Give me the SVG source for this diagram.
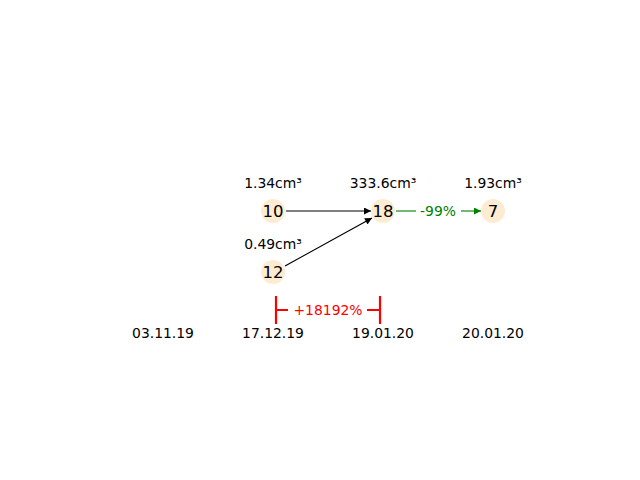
<svg xmlns="http://www.w3.org/2000/svg" width="640" height="480" viewBox="0 0 640 480">
<style>
text{font-family:"DejaVu Sans",sans-serif;}
.lbl{font-size:13.9px;fill:#000;text-anchor:middle;}
.num{font-size:16.5px;fill:#000;text-anchor:middle;dominant-baseline:central;}
.node{fill:#fdecd2;}
.edge{stroke:#000;stroke-width:1.1;fill:none;}
.g{stroke:#008000;stroke-width:1.1;fill:none;}
.r{stroke:#ff0000;stroke-width:2.2;fill:none;}
</style>
<defs>
<marker id="ab" viewBox="0 0 10 10" refX="10" refY="5" markerWidth="9" markerHeight="7" markerUnits="userSpaceOnUse" orient="auto"><path d="M0,0 L10,5 L0,10 z" fill="#000"/></marker>
<marker id="ag" viewBox="0 0 10 10" refX="10" refY="5" markerWidth="9" markerHeight="7" markerUnits="userSpaceOnUse" orient="auto"><path d="M0,0 L10,5 L0,10 z" fill="#008000"/></marker>
</defs>
<rect width="640" height="480" fill="#fff"/>
<g id="connectors">
<line class="edge" x1="286" y1="211" x2="371" y2="211" marker-end="url(#ab)"/>
<line class="edge" x1="285" y1="266" x2="372" y2="218" marker-end="url(#ab)"/>
<line class="g" x1="396" y1="211" x2="416" y2="211"/>
<line class="g" x1="461" y1="211" x2="481" y2="211" marker-end="url(#ag)"/>
<text x="438" y="216" style="font-size:13.9px;fill:#008000;text-anchor:middle">-99%</text>
</g>
<g id="node-10"><circle class="node" cx="273" cy="211" r="12"/><text class="num" x="273" y="211">10</text><text class="lbl" x="273" y="188">1.34cm³</text></g>
<g id="node-18"><circle class="node" cx="383" cy="211" r="12"/><text class="num" x="383" y="211">18</text><text class="lbl" x="383" y="188">333.6cm³</text></g>
<g id="node-7"><circle class="node" cx="493" cy="211" r="12"/><text class="num" x="493" y="211">7</text><text class="lbl" x="493" y="188">1.93cm³</text></g>
<g id="node-12"><circle class="node" cx="273" cy="272" r="12"/><text class="num" x="273" y="272">12</text><text class="lbl" x="273" y="249">0.49cm³</text></g>
<g id="bracket">
<path class="r" d="M276,296 V324 M276,310 H288 M380,296 V324 M380,310 H367"/>
<text x="328" y="315" style="font-size:13.9px;fill:#ff0000;text-anchor:middle">+18192%</text>
</g>
<g id="dates">
<text class="lbl" x="163" y="338">03.11.19</text>
<text class="lbl" x="273" y="338">17.12.19</text>
<text class="lbl" x="383" y="338">19.01.20</text>
<text class="lbl" x="493" y="338">20.01.20</text>
</g>
</svg>
